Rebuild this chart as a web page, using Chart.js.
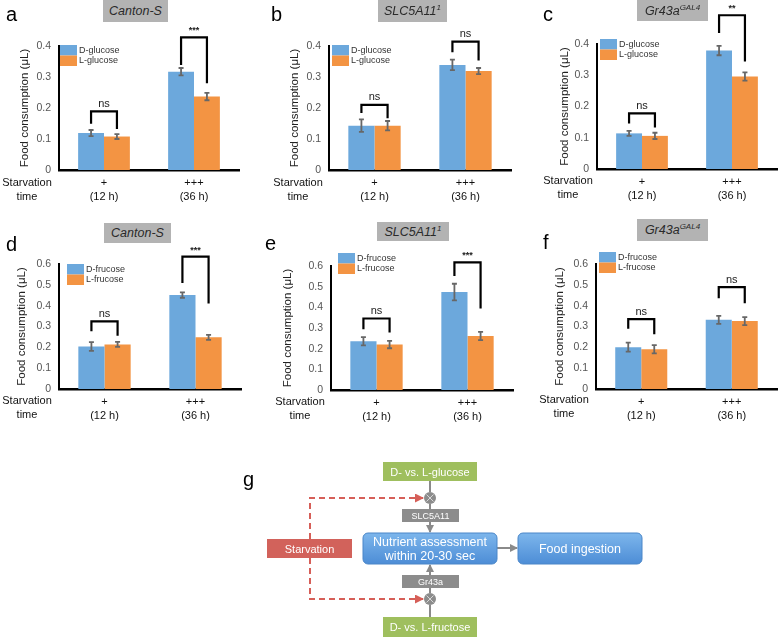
<!DOCTYPE html>
<html>
<head>
<meta charset="utf-8">
<script src="https://cdn.jsdelivr.net/npm/chart.js@4.4.0/dist/chart.umd.min.js"></script>
<style>
  body { margin: 0; background: #fff; }
  #page { position: relative; width: 778px; height: 639px; overflow: hidden; font-family: "Liberation Sans", Arial, sans-serif; }
  .panel { position: absolute; }
  .tag { position: absolute; background: #b3b3b3; color: #2a2a2a; font-style: italic; font-size: 12.5px; display: flex; align-items: center; justify-content: center; z-index: 2; }
  .tag sup { font-size: 8px; line-height: 0; vertical-align: 5px; }
  .letter { position: absolute; font-size: 20px; line-height: 20px; color: #000; z-index: 2; }
  svg text { font-family: "Liberation Sans", Arial, sans-serif; }
</style>
</head>
<body>
<div id="page">
  <div class="panel" id="pa"><canvas id="ca"></canvas></div>
  <div class="panel" id="pb"><canvas id="cb"></canvas></div>
  <div class="panel" id="pc"><canvas id="cc"></canvas></div>
  <div class="panel" id="pd"><canvas id="cd"></canvas></div>
  <div class="panel" id="pe"><canvas id="ce"></canvas></div>
  <div class="panel" id="pf"><canvas id="cf"></canvas></div>

  <div class="tag" style="left:103px;top:0;width:65px;height:22px"><span>Canton-S</span></div>
  <div class="tag" style="left:378px;top:0;width:69px;height:22px"><span>SLC5A11<sup>1</sup></span></div>
  <div class="tag" style="left:637px;top:0;width:71px;height:21px"><span>Gr43a<sup>GAL4</sup></span></div>
  <div class="tag" style="left:104px;top:223px;width:67px;height:20px"><span>Canton-S</span></div>
  <div class="tag" style="left:377px;top:222px;width:72px;height:19px"><span>SLC5A11<sup>1</sup></span></div>
  <div class="tag" style="left:637px;top:219px;width:71px;height:22px"><span>Gr43a<sup>GAL4</sup></span></div>

  <div class="letter" style="left:6px;top:4px">a</div>
  <div class="letter" style="left:271px;top:4px">b</div>
  <div class="letter" style="left:543px;top:4px">c</div>
  <div class="letter" style="left:6px;top:234px">d</div>
  <div class="letter" style="left:265px;top:233px">e</div>
  <div class="letter" style="left:543px;top:232px">f</div>

  <svg width="778" height="219" style="position:absolute;left:0;top:420px">
    <defs>
      <marker id="ag" markerWidth="8" markerHeight="8" refX="7" refY="4" orient="auto" markerUnits="userSpaceOnUse">
        <path d="M0,0 L8,4 L0,8 z" fill="#8a8a8a"/>
      </marker>
      <marker id="ar" markerWidth="9" markerHeight="9" refX="8" refY="4.5" orient="auto" markerUnits="userSpaceOnUse">
        <path d="M0,0 L9,4.5 L0,9 z" fill="#d65f58"/>
      </marker>
      <linearGradient id="bl" x1="0" y1="0" x2="0" y2="1">
        <stop offset="0" stop-color="#7db6ec"/>
        <stop offset="1" stop-color="#4d8dd6"/>
      </linearGradient>
    </defs>
    <text x="243" y="66" font-size="20" fill="#000">g</text>

    <!-- starvation feedback (dashed) -->
    <path d="M310,119 L310,78 L423,78" fill="none" stroke="#d65f58" stroke-width="2" stroke-dasharray="6,4" marker-end="url(#ar)"/>
    <path d="M310,138 L310,179 L423,179" fill="none" stroke="#d65f58" stroke-width="2" stroke-dasharray="6,4" marker-end="url(#ar)"/>

    <!-- glucose branch -->
    <line x1="430" y1="61" x2="430" y2="72" stroke="#8a8a8a" stroke-width="2"/>
    <line x1="430" y1="84" x2="430" y2="89" stroke="#8a8a8a" stroke-width="2"/>
    <line x1="430" y1="102" x2="430" y2="112" stroke="#8a8a8a" stroke-width="2" marker-end="url(#ag)"/>
    <!-- fructose branch -->
    <line x1="430" y1="197" x2="430" y2="185" stroke="#8a8a8a" stroke-width="2"/>
    <line x1="430" y1="173" x2="430" y2="168" stroke="#8a8a8a" stroke-width="2"/>
    <line x1="430" y1="155" x2="430" y2="145" stroke="#8a8a8a" stroke-width="2" marker-end="url(#ag)"/>
    <!-- to ingestion -->
    <line x1="497" y1="128" x2="517" y2="128" stroke="#8a8a8a" stroke-width="2" marker-end="url(#ag)"/>

    <circle cx="430" cy="78" r="6" fill="#8c8c8c"/>
    <path d="M426.5,74.5 L433.5,81.5 M433.5,74.5 L426.5,81.5" stroke="#d8d8d8" stroke-width="1"/>
    <circle cx="430" cy="179" r="6" fill="#8c8c8c"/>
    <path d="M426.5,175.5 L433.5,182.5 M433.5,175.5 L426.5,182.5" stroke="#d8d8d8" stroke-width="1"/>

    <rect x="383" y="42" width="94" height="19" fill="#9fbf5e"/>
    <text x="430" y="55.5" font-size="11" fill="#fff" text-anchor="middle">D- vs. L-glucose</text>
    <rect x="383" y="197" width="94" height="20" fill="#9fbf5e"/>
    <text x="430" y="211" font-size="11" fill="#fff" text-anchor="middle">D- vs. L-fructose</text>

    <rect x="402" y="89" width="57" height="13" fill="#8c8c8c"/>
    <text x="430.5" y="98.8" font-size="9" fill="#fff" text-anchor="middle">SLC5A11</text>
    <rect x="402" y="155" width="57" height="13" fill="#8c8c8c"/>
    <text x="430.5" y="164.8" font-size="9" fill="#fff" text-anchor="middle">Gr43a</text>

    <rect x="267" y="119" width="85" height="19" fill="#d2625b"/>
    <text x="309.5" y="132.5" font-size="11" fill="#fff" text-anchor="middle">Starvation</text>

    <rect x="363" y="113" width="134" height="31" rx="5" fill="url(#bl)" stroke="#4a86c8" stroke-width="1"/>
    <text x="430" y="126" font-size="12.5" fill="#fff" text-anchor="middle">Nutrient assessment</text>
    <text x="430" y="140" font-size="12.5" fill="#fff" text-anchor="middle">within 20-30 sec</text>

    <rect x="518" y="113" width="124" height="31" rx="5" fill="url(#bl)" stroke="#4a86c8" stroke-width="1"/>
    <text x="580" y="133" font-size="12.5" fill="#fff" text-anchor="middle">Food ingestion</text>
  </svg>
</div>

<script>
// ─── shared categories / labels ─────────────────────────────────
const groups = [['+', '(12 h)'], ['+++', '(36 h)']];
const rowTitles = ['Starvation', 'time'];
const glucoseNames = ['D-glucose', 'L-glucose'];
const fructoseNames = ['D-frucose', 'L-frucose'];
const topRowMax = 0.4;
const bottomRowMax = 0.6;

// ─── a: Canton-S, glucose ───────────────────────────────────────
const aD = [0.119, 0.317];
const aL = [0.108, 0.237];
const aDErr = [0.010, 0.012];
const aLErr = [0.008, 0.012];
const aSig = ['ns', '***'];
const aSigTop = [0.189, 0.428];
const aSigD = [0.149, 0.339];
const aSigL = [0.132, 0.280];

// ─── b: SLC5A11, glucose ────────────────────────────────────────
const bD = [0.143, 0.339];
const bL = [0.143, 0.319];
const bDErr = [0.020, 0.017];
const bLErr = [0.015, 0.010];
const bSig = ['ns', 'ns'];
const bSigTop = [0.210, 0.414];
const bSigD = [0.184, 0.380];
const bSigL = [0.167, 0.353];

// ─── c: Gr43a, glucose ──────────────────────────────────────────
const cD = [0.114, 0.379];
const cL = [0.106, 0.296];
const cDErr = [0.008, 0.015];
const cLErr = [0.010, 0.013];
const cSig = ['ns', '**'];
const cSigTop = [0.178, 0.492];
const cSigD = [0.146, 0.435];
const cSigL = [0.133, 0.344];

// ─── d: Canton-S, fructose ──────────────────────────────────────
const dD = [0.204, 0.451];
const dL = [0.214, 0.248];
const dDErr = [0.021, 0.013];
const dLErr = [0.012, 0.012];
const dSig = ['ns', '***'];
const dSigTop = [0.325, 0.635];
const dSigD = [0.277, 0.509];
const dSigL = [0.256, 0.410];

// ─── e: SLC5A11, fructose ───────────────────────────────────────
const eD = [0.236, 0.474];
const eL = [0.220, 0.261];
const eDErr = [0.020, 0.040];
const eLErr = [0.018, 0.020];
const eSig = ['ns', '***'];
const eSigTop = [0.346, 0.618];
const eSigD = [0.294, 0.552];
const eSigL = [0.278, 0.394];

// ─── f: Gr43a, fructose ─────────────────────────────────────────
const fD = [0.201, 0.332];
const fL = [0.191, 0.326];
const fDErr = [0.022, 0.019];
const fLErr = [0.020, 0.019];
const fSig = ['ns', 'ns'];
const fSigTop = [0.335, 0.489];
const fSigD = [0.289, 0.436];
const fSigL = [0.263, 0.412];

const BLUE = '#6ca8dc';
const ORANGE = '#f39443';
const FONT = "'Liberation Sans', Arial, sans-serif";

// error bars, significance brackets, legend and row titles
const extras = {
  id: 'extras',
  afterDatasetsDraw(chart, args, o) {
    const ctx = chart.ctx;
    const y = chart.scales.y;
    const area = chart.chartArea;
    const barsD = chart.getDatasetMeta(0).data;
    const barsL = chart.getDatasetMeta(1).data;
    ctx.save();

    // error bars
    [o.errD, o.errL].forEach((errs, k) => {
      const vals = chart.data.datasets[k].data;
      chart.getDatasetMeta(k).data.forEach((bar, j) => {
        const hi = y.getPixelForValue(vals[j] + errs[j]);
        const lo = y.getPixelForValue(vals[j] - errs[j]);
        ctx.strokeStyle = '#676767';
        ctx.lineWidth = 1.8;
        ctx.beginPath();
        ctx.moveTo(bar.x, hi); ctx.lineTo(bar.x, lo);
        ctx.moveTo(bar.x - 2.5, hi); ctx.lineTo(bar.x + 2.5, hi);
        ctx.moveTo(bar.x - 2.5, lo); ctx.lineTo(bar.x + 2.5, lo);
        ctx.stroke();
      });
    });

    // significance brackets
    o.sig.forEach((label, j) => {
      const xd = barsD[j].x, xl = barsL[j].x;
      const top = y.getPixelForValue(o.sigTop[j]);
      ctx.strokeStyle = '#000';
      ctx.lineWidth = 2.2;
      ctx.beginPath();
      ctx.moveTo(xd, y.getPixelForValue(o.sigD[j]));
      ctx.lineTo(xd, top);
      ctx.lineTo(xl, top);
      ctx.lineTo(xl, y.getPixelForValue(o.sigL[j]));
      ctx.stroke();
      ctx.fillStyle = '#222';
      ctx.textAlign = 'center';
      ctx.textBaseline = 'bottom';
      ctx.font = label === 'ns' ? `11px ${FONT}` : `bold 9px ${FONT}`;
      ctx.fillText(label, (xd + xl) / 2, top - 2);
    });

    // legend
    chart.data.datasets.forEach((ds, k) => {
      const lx = o.legendX, ly = o.legendY + k * 10.5;
      ctx.fillStyle = ds.backgroundColor;
      ctx.fillRect(lx, ly, 17, 10.5);
      ctx.fillStyle = '#333';
      ctx.textAlign = 'left';
      ctx.textBaseline = 'middle';
      ctx.font = `9px ${FONT}`;
      ctx.fillText(ds.label, lx + 19, ly + 5.5);
    });

    // row titles left of the x labels
    ctx.fillStyle = '#111';
    ctx.textAlign = 'center';
    ctx.textBaseline = 'middle';
    ctx.font = `11px ${FONT}`;
    rowTitles.forEach((t, k) => ctx.fillText(t, o.rowX, area.bottom + o.rowDy + k * 14));
    ctx.restore();
  },
};

function makePanel(id, box, area, names, dVals, lVals, errD, errL, sig, sigTop, sigD, sigL, yMax, titleX, legend, rowX, rowDy) {
  const wrap = document.getElementById('p' + id);
  Object.assign(wrap.style, { left: box.x + 'px', top: box.y + 'px', width: box.w + 'px', height: box.h + 'px' });

  return new Chart(document.getElementById('c' + id), {
    type: 'bar',
    data: {
      labels: groups,
      datasets: [
        { label: names[0], data: dVals, backgroundColor: BLUE },
        { label: names[1], data: lVals, backgroundColor: ORANGE },
      ],
    },
    options: {
      responsive: true,
      maintainAspectRatio: false,
      animation: false,
      devicePixelRatio: 1,
      categoryPercentage: 0.575,
      barPercentage: 1,
      layout: { padding: { left: 0, top: area.t - box.y, right: box.x + box.w - area.r, bottom: 0 } },
      plugins: {
        legend: { display: false },
        tooltip: { enabled: false },
        extras: {
          errD, errL, sig, sigTop, sigD, sigL,
          legendX: legend.x - box.x, legendY: legend.y - box.y,
          rowX: rowX - box.x, rowDy,
        },
      },
      scales: {
        x: {
          grid: { display: false, drawTicks: false },
          border: { color: '#000', width: 2.5 },
          ticks: { color: '#111', padding: 6, font: { family: FONT, size: 11, lineHeight: 14 / 11 } },
          afterFit: (s) => { s.height = box.y + box.h - area.b; },
        },
        y: {
          min: 0,
          max: yMax,
          grid: { display: false, drawTicks: false },
          border: { color: '#000', width: 2 },
          ticks: { stepSize: 0.1, color: '#555', padding: 8, font: { family: FONT, size: 10.5 },
                   callback: (v) => String(+v.toFixed(1)) },
          title: { display: true, text: 'Food consumption (μL)', color: '#222',
                   font: { family: FONT, size: 11.5, lineHeight: 1.2 },
                   padding: { top: titleX - box.x - 6.9, bottom: 0 } },
          afterFit: (s) => { s.width = area.l - box.x; },
        },
      },
    },
    plugins: [extras],
  });
}

makePanel('a', { x: 0, y: 0, w: 258, h: 206 }, { l: 59, r: 239, t: 46, b: 170 }, glucoseNames,
  aD, aL, aDErr, aLErr, aSig, aSigTop, aSigD, aSigL, topRowMax, 25, { x: 60, y: 45 }, 27, 12.7);
makePanel('b', { x: 259, y: 0, w: 257, h: 206 }, { l: 329, r: 511, t: 46, b: 170 }, glucoseNames,
  bD, bL, bDErr, bLErr, bSig, bSigTop, bSigD, bSigL, topRowMax, 295, { x: 332, y: 45 }, 298, 12.7);
makePanel('c', { x: 518, y: 0, w: 260, h: 206 }, { l: 597, r: 777, t: 44, b: 169 }, glucoseNames,
  cD, cL, cDErr, cLErr, cSig, cSigTop, cSigD, cSigL, topRowMax, 565, { x: 600, y: 39 }, 568, 12.3);
makePanel('d', { x: 0, y: 244, w: 258, h: 180 }, { l: 59, r: 241, t: 264, b: 389 }, fructoseNames,
  dD, dL, dDErr, dLErr, dSig, dSigTop, dSigD, dSigL, bottomRowMax, 22, { x: 67, y: 264 }, 27, 12);
makePanel('e', { x: 259, y: 244, w: 257, h: 180 }, { l: 331, r: 513, t: 266, b: 390 }, fructoseNames,
  eD, eL, eDErr, eLErr, eSig, eSigTop, eSigD, eSigL, bottomRowMax, 288, { x: 338, y: 253 }, 300, 11.7);
makePanel('f', { x: 518, y: 244, w: 260, h: 180 }, { l: 596, r: 777, t: 264, b: 389 }, fructoseNames,
  fD, fL, fDErr, fLErr, fSig, fSigTop, fSigD, fSigL, bottomRowMax, 560, { x: 599, y: 252 }, 564, 10.5);
</script>
</body>
</html>
